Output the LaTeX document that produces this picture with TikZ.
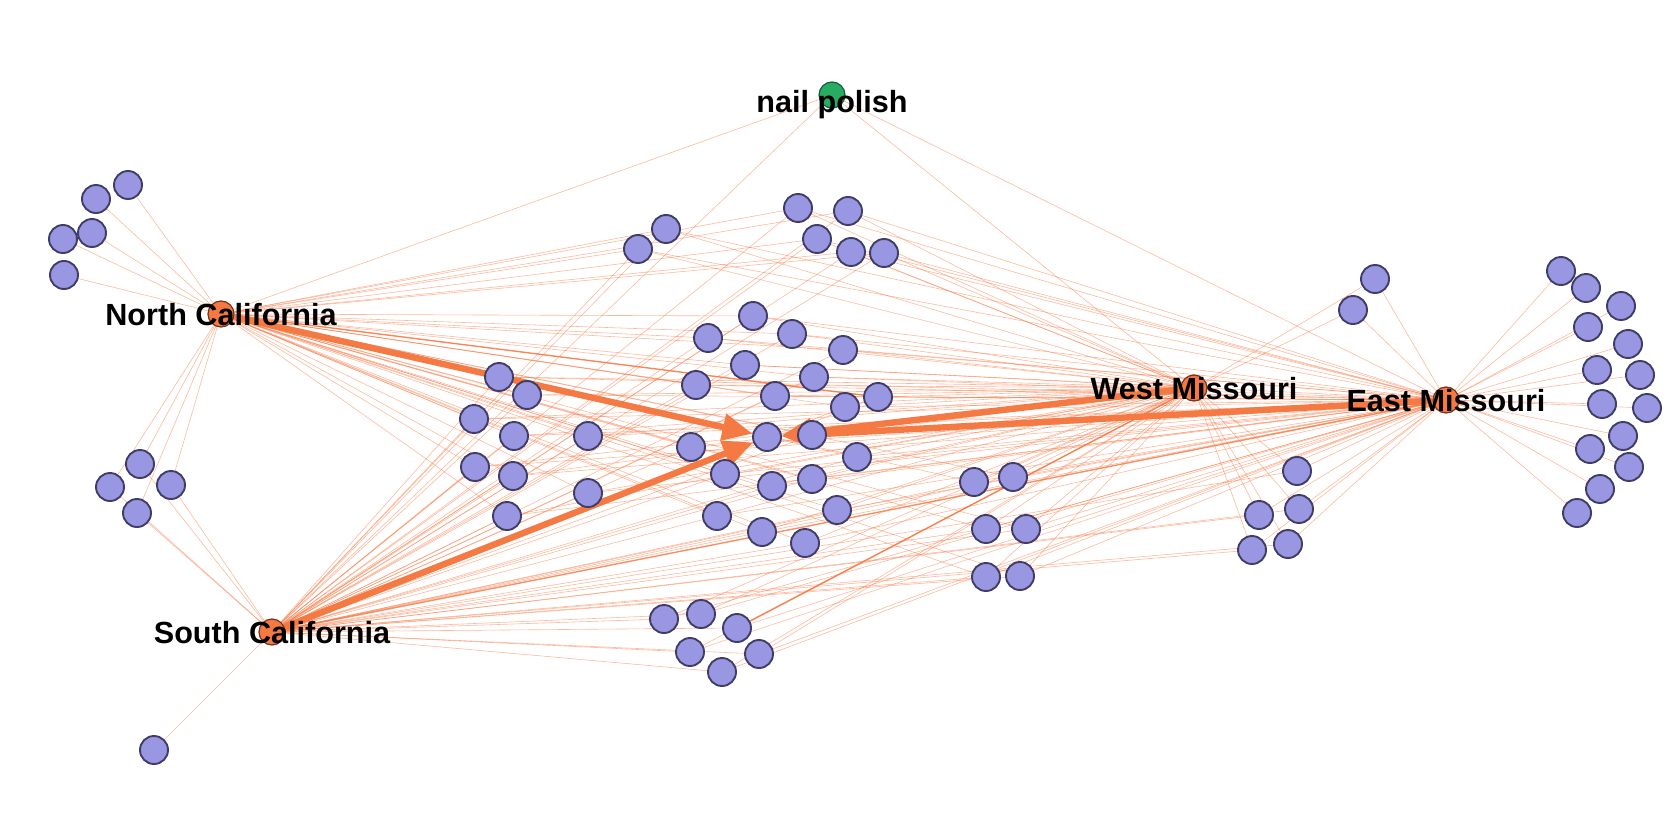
\documentclass[tikz,border=0pt]{standalone}
\usepackage{fontspec}
\setmainfont{Liberation Sans}
\usetikzlibrary{arrows.meta}
\definecolor{ProdPurple}{RGB}{153,150,226}
\definecolor{ProdLine}{RGB}{64,62,104}
\definecolor{RegionOrange}{RGB}{244,121,66}
\definecolor{RegionLine}{RGB}{118,50,26}
\definecolor{ItemGreen}{RGB}{40,172,98}
\definecolor{ItemLine}{RGB}{22,92,52}
\definecolor{LinkOrange}{RGB}{248,116,62}
\pgfdeclarelayer{bg}\pgfsetlayers{bg,main}
\begin{document}
\begin{tikzpicture}[x=0.5pt,y=-0.5pt,>={Triangle[length=15pt,width=13pt]},
prod/.style={circle,fill=ProdPurple,draw=ProdLine,line width=0.95pt,minimum size=14pt,inner sep=0pt},
region/.style={circle,fill=RegionOrange,draw=RegionLine,line width=0.6pt,minimum size=13pt,inner sep=0pt},
item/.style={circle,fill=ItemGreen,draw=ItemLine,line width=0.6pt,minimum size=13pt,inner sep=0pt},
lbl/.style={font=\fontsize{15.3}{18}\selectfont\bfseries,text depth=0pt,inner sep=0pt},
link/.style={draw=LinkOrange,line width=0.3pt,opacity=0.5},
heavy/.style={draw=LinkOrange,line width=0.7pt,opacity=0.8},
flow/.style={draw=RegionOrange,line width=3.2pt,->}]
\useasboundingbox (0,0) rectangle (1680,840);
\node[item,label={[lbl,yshift=-3pt]center:nail polish}] (np) at (832,95) {};
\node[region,label={[lbl]center:North California}] (nc) at (221,314) {};
\node[region,label={[lbl]center:South California}] (sc) at (272,632) {};
\node[region,label={[lbl]center:West Missouri}] (wm) at (1194,388) {};
\node[region,label={[lbl]center:East Missouri}] (em) at (1446,400) {};
\foreach \n/\x/\y in {nw1/128/185,nw2/96/199,nw3/92/233,nw4/63/239,nw5/64/275,
sw1/140/464,sw2/110/487,sw3/171/485,sw4/137/513,so1/154/750,
cl1/499/377,cl2/527/395,cl3/474/419,cl4/514/436,cl5/475/467,cl6/513/476,cl7/507/516,cl8/588/436,cl9/588/493,
tp1/638/249,tp2/666/229,tp3/798/208,tp4/848/211,tp5/817/239,tp6/851/252,tp7/884/253,
ct1/753/316,ct2/708/338,ct3/792/334,ct4/843/350,ct5/745/365,ct6/814/377,ct7/696/385,ct8/775/396,ct9/878/397,ct10/845/407,ct11/691/447,
ct12/767/437,ct13/812/435,ct14/857/457,ct15/725/474,ct16/772/486,ct17/812/479,ct18/717/516,ct19/837/510,ct20/762/532,ct21/805/543,
rm1/974/482,rm2/1013/477,rm3/986/529,rm4/1026/529,rm5/986/577,rm6/1020/576,
bt1/664/619,bt2/701/614,bt3/737/628,bt4/690/652,bt5/759/654,bt6/722/672,
ne1/1375/279,ne2/1353/310,wl1/1297/471,wl2/1259/515,wl3/1299/509,wl4/1252/550,wl5/1288/544,
ea1/1561/271,ea2/1586/288,ea3/1621/306,ea4/1588/327,ea5/1628/344,ea6/1597/370,ea7/1640/375,
ea8/1602/404,ea9/1647/408,ea10/1623/436,ea11/1590/449,ea12/1629/467,ea13/1600/489,ea14/1577/513}
\node[prod] (\n) at (\x,\y) {};
\begin{pgfonlayer}{bg}
\foreach \i in {1,...,5} \draw[link] (nc) -- (nw\i);
\foreach \i in {1,...,4} {\draw[link] (nc) -- (sw\i); \draw[link] (sc) -- (sw\i);}
\draw[link] (sc) -- (so1);
\foreach \g/\k in {cl/9,tp/7,ct/21,rm/6} \foreach \i in {1,...,\k} \foreach \h in {nc,sc,wm,em} \draw[link] (\h) -- (\g\i);
\foreach \g/\k in {bt/6,wl/5} \foreach \i in {1,...,\k} \foreach \h in {sc,wm,em} \draw[link] (\h) -- (\g\i);
\foreach \i in {1,2} {\draw[link] (wm) -- (ne\i); \draw[link] (em) -- (ne\i);}
\foreach \i in {1,...,14} \draw[link] (em) -- (ea\i);
\foreach \h in {nc,sc,wm,em} \draw[link] (np) -- (\h);
\draw[heavy] (sc) -- (em);
\draw[heavy] (bt3) -- (wm);
\draw[heavy] (nc) -- (ct9);
\foreach \h in {nc,sc,wm,em} \draw[flow] (\h) -- (ct12);
\end{pgfonlayer}
\end{tikzpicture}
\end{document}
